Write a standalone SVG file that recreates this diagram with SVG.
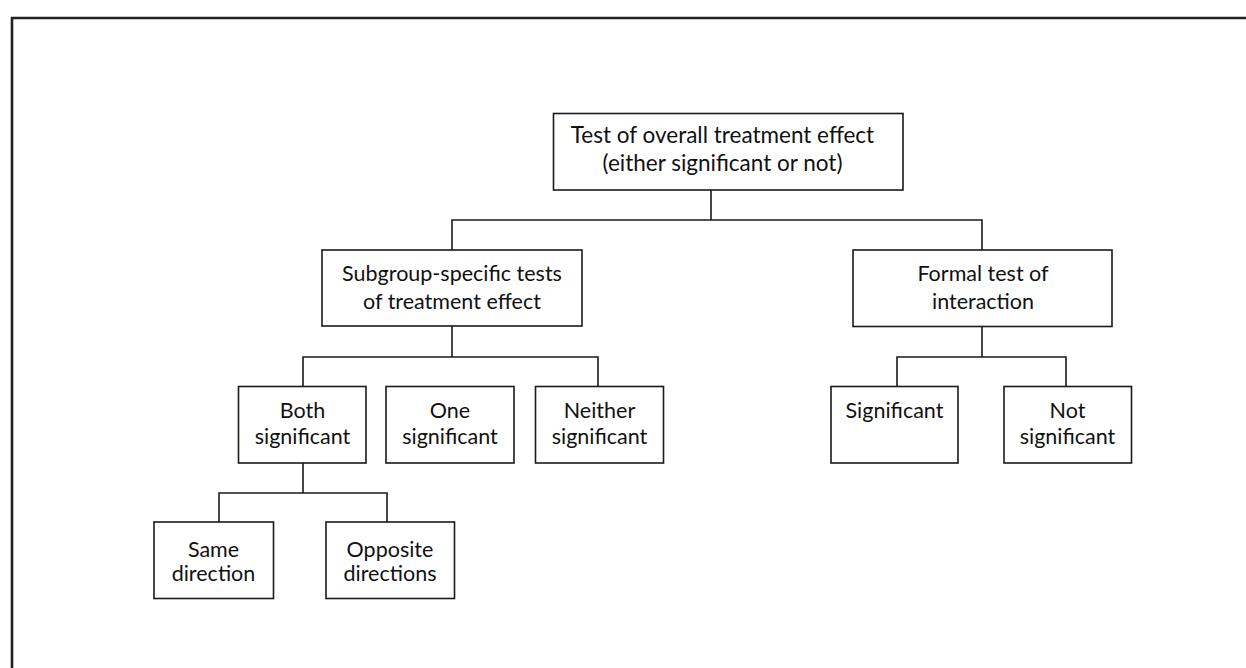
<svg xmlns="http://www.w3.org/2000/svg" width="1246" height="668" viewBox="0 0 1246 668">
<style>
.box{fill:#fff;stroke:#1a1a1a;stroke-width:1.6}
.ln{fill:none;stroke:#1a1a1a;stroke-width:1.6}
text{font-family:Lato,"Open Sans","Liberation Sans",sans-serif;font-size:21.5px;fill:#111;text-anchor:middle}
.big{font-size:22.5px}
</style>
<rect width="1246" height="668" fill="#fff"/>
<path d="M12,668 V18 H1246" fill="none" stroke="#222" stroke-width="2.6"/>
<g id="connectors">
<path class="ln" d="M711,190 V220 M452,250 V220 H982 V250"/>
<path class="ln" d="M452,326 V357 M303,386 V357 H598 V386"/>
<path class="ln" d="M982,326 V357 M897,386 V357 H1066 V386"/>
<path class="ln" d="M303,463 V493 M219,522 V493 H387 V522"/>
</g>
<g id="n-overall"><rect class="box" x="553.5" y="113.5" width="349.5" height="76.5"/><text class="big" x="722.5" y="143">Test of overall treatment effect</text><text class="big" x="722.5" y="171">(either significant or not)</text></g>
<g id="n-subgroup"><rect class="box" x="322" y="250" width="260" height="76"/><text x="452" y="281">Subgroup-specific tests</text><text x="452" y="309">of treatment effect</text></g>
<g id="n-formal"><rect class="box" x="853" y="250" width="259" height="76.5"/><text x="983" y="281">Formal test of</text><text x="983" y="309">interaction</text></g>
<g id="n-both"><rect class="box" x="238.5" y="386.5" width="127.5" height="76.5"/><text x="302.5" y="418">Both</text><text x="302.5" y="444">significant</text></g>
<g id="n-one"><rect class="box" x="386" y="386.5" width="128" height="76.5"/><text x="450" y="418">One</text><text x="450" y="444">significant</text></g>
<g id="n-neither"><rect class="box" x="535.5" y="386.5" width="128" height="76.5"/><text x="599.5" y="418">Neither</text><text x="599.5" y="444">significant</text></g>
<g id="n-sig"><rect class="box" x="831" y="386.5" width="127" height="76.5"/><text x="894.5" y="418">Significant</text></g>
<g id="n-notsig"><rect class="box" x="1004" y="386.5" width="127.5" height="76.5"/><text x="1067.5" y="418">Not</text><text x="1067.5" y="444">significant</text></g>
<g id="n-same"><rect class="box" x="154" y="522" width="119.5" height="76.5"/><text x="213.5" y="557">Same</text><text x="213.5" y="581">direction</text></g>
<g id="n-opposite"><rect class="box" x="326" y="522" width="128.5" height="76.5"/><text x="390" y="557">Opposite</text><text x="390" y="581">directions</text></g>
</svg>
